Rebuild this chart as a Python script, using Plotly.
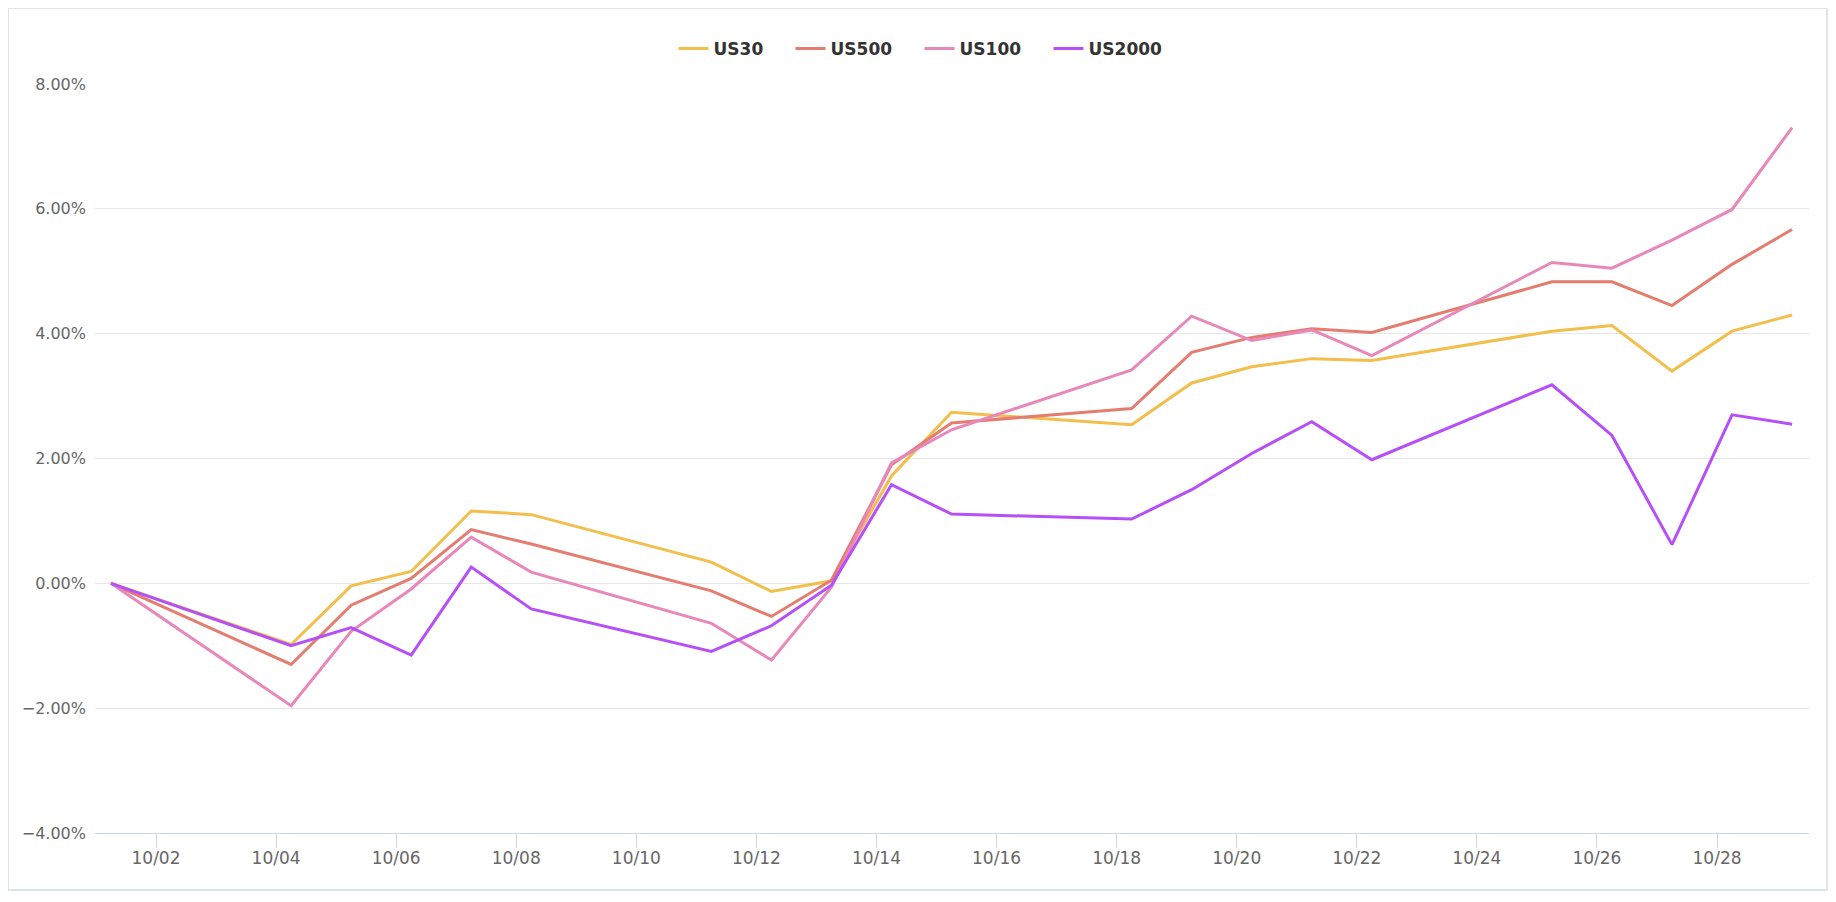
import pandas as pd
import plotly.graph_objects as go

dates = ["2021-10-01", "2021-10-04", "2021-10-05", "2021-10-06", "2021-10-07", "2021-10-08",
         "2021-10-11", "2021-10-12", "2021-10-13", "2021-10-14", "2021-10-15", "2021-10-18",
         "2021-10-19", "2021-10-20", "2021-10-21", "2021-10-22", "2021-10-25", "2021-10-26",
         "2021-10-27", "2021-10-28", "2021-10-29"]
us30 = [0, -0.98, -0.04, 0.19, 1.16, 1.10, 0.34, -0.13, 0.04, 1.72, 2.74, 2.54, 3.21, 3.47,
        3.60, 3.57, 4.04, 4.13, 3.40, 4.04, 4.30]
us500 = [0, -1.30, -0.35, 0.08, 0.86, 0.63, -0.12, -0.53, 0.05, 1.90, 2.57, 2.80, 3.70, 3.94,
         4.08, 4.02, 4.83, 4.83, 4.45, 5.11, 5.67]
us100 = [0, -1.96, -0.77, -0.09, 0.74, 0.18, -0.64, -1.23, -0.06, 1.93, 2.46, 3.42, 4.28, 3.89,
         4.06, 3.65, 5.14, 5.05, 5.50, 5.99, 7.30]
us2000 = [0, -1.00, -0.71, -1.15, 0.26, -0.41, -1.09, -0.68, -0.03, 1.58, 1.11, 1.03, 1.50, 2.08,
          2.59, 1.98, 3.18, 2.37, 0.62, 2.70, 2.55]

series = [("US30", us30, "#f2be4c"), ("US500", us500, "#e47c70"),
          ("US100", us100, "#e887b9"), ("US2000", us2000, "#b64ff6")]

# data timestamps are recorded at 06:00 of each trading day
x = pd.to_datetime(dates) + pd.Timedelta(hours=6)

# the page body keeps its default 8px margin, so the figure is 1820 x 886
FW, FH = 1820, 886
ML, MR, MT, MB = 87, 19, 76, 61
PW, PH = FW - ML - MR, FH - MT - MB

LEG_FONT = 17
# approximate DejaVu Sans Bold advance widths (em) for the legend entries
CHAR_W = {"U": 0.812, "S": 0.720}
def text_w(s):
    return sum(CHAR_W.get(c, 0.696) for c in s) * LEG_FONT

fig = go.Figure()
for i, (name, vals, color) in enumerate(series):
    extra = 22 if i < len(series) - 1 else 0
    fig.add_trace(go.Scatter(x=x, y=vals, name=name, mode="lines",
                             line=dict(color=color, width=3),
                             legendwidth=round(text_w(name) + extra)))

font_family = "DejaVu Sans"
fig.update_layout(
    margin=dict(l=ML, r=MR, t=MT, b=MB),
    paper_bgcolor="white", plot_bgcolor="white",
    font=dict(family=font_family, color="#666666", size=16),
    showlegend=True,
    legend=dict(orientation="h", x=0.5 - 32 / PW, xanchor="center",
                y=(PH + MT - 41) / PH, yanchor="middle",
                font=dict(size=LEG_FONT, color="#333333", weight="bold"),
                bgcolor="rgba(0,0,0,0)"),
    xaxis=dict(type="date", range=["2021-09-30 23:37", "2021-10-29 12:46"],
               tick0="2021-10-02", dtick=2 * 86400000, tickformat="%m/%d",
               showgrid=False, showline=True, linecolor="#ccd6eb", linewidth=1,
               ticks="outside", ticklen=14, tickcolor="#ccd6eb", tickwidth=1,
               ticklabelstandoff=-4,
               tickfont=dict(size=17, color="#666666"), zeroline=False, fixedrange=True),
    yaxis=dict(range=[-4, 8], dtick=2, tick0=0, tickformat=".2f", ticksuffix="%",
               showgrid=True, gridcolor="#e6e6e6", gridwidth=1, zeroline=False,
               showline=False, ticks="", ticklabelstandoff=8,
               tickfont=dict(size=16, color="#666666"), fixedrange=True),
    shapes=[dict(type="rect", xref="paper", yref="paper",
                 x0=(0 - ML) / PW, x1=(1819 - ML) / PW,
                 y0=(FH - MB - 882) / PH, y1=(FH - MB - 0) / PH,
                 line=dict(color="#dde5e8", width=2), fillcolor="rgba(0,0,0,0)", layer="below")],
)

fig.write_html("out.html")
